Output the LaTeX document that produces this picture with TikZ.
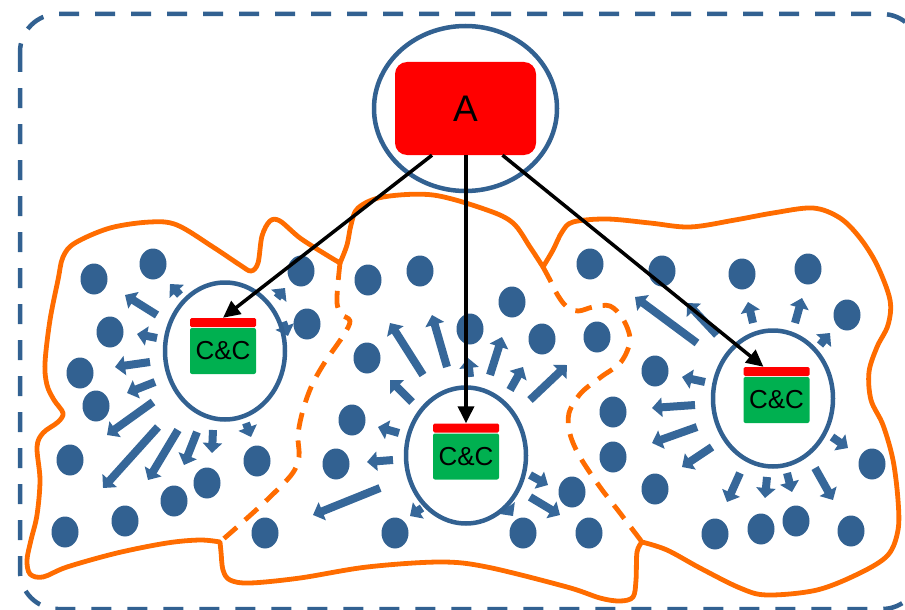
\documentclass[tikz,border=0pt]{standalone}
\usepackage{fontspec}
\setmainfont{Liberation Sans}
\usetikzlibrary{arrows.meta,shapes.geometric}
\definecolor{nodeblue}{RGB}{50,97,145}
\definecolor{arrowblue}{RGB}{54,103,153}
\definecolor{bloborange}{RGB}{255,108,0}
\definecolor{ccgreen}{RGB}{0,176,80}
\tikzset{
  outerframe/.style={draw=nodeblue, line width=4.5pt, dash pattern=on 20pt off 16pt, rounded corners=38pt},
  ring/.style={ellipse, draw=nodeblue, line width=4.5pt, inner sep=0pt, minimum width=120pt, minimum height=137pt},
  bot/.style={ellipse, fill=nodeblue, inner sep=0pt, minimum width=27pt, minimum height=31pt},
  flow/.style={draw=arrowblue, line width=8pt, -{Triangle[length=10pt,width=19pt]}},
  redbar/.style={fill=red, minimum width=66pt, minimum height=9pt, inner sep=0pt, rounded corners=1.5pt},
  ccbox/.style={fill=ccgreen, minimum width=66pt, minimum height=46pt, inner sep=0pt, rounded corners=2pt, font=\fontsize{26}{30}\selectfont},
  blob/.style={draw=bloborange, line width=4.8pt, line join=round},
  divider/.style={blob, dash pattern=on 17pt off 11pt},
  cmd/.style={draw=black, line width=3.5pt, -{Triangle[length=17pt,width=16pt]}},
}
\begin{document}
\begin{tikzpicture}[x=1pt,y=-1pt]
\useasboundingbox (0,0) rectangle (905,610);
\clip (0,0) rectangle (905,610);
% outer dashed frame
\draw[outerframe] (20,14) rectangle (920,609);
% orange blob
\draw[blob] plot[smooth, tension=0.55] coordinates {(220,542) (200,540) (167,543) (117,553) (67,567) (43,577) (30,574) (27,560) (31,540) (37,515) (40,480) (37,447) (43,433) (58,422) (63,413) (54,400) (47,385) (45,363) (50,320) (58,280) (63,257) (75,243) (110,228) (150,222) (177,225) (213,247) (240,265) (251,271) (258,263) (262,236) (270,221) (280,221) (300,238) (325,254) (340,263)}
 -- plot[smooth, tension=0.55] coordinates {(340,263) (347,245) (351,225) (358,208) (383,197) (433,195) (487,210) (513,223) (530,247) (543,267)}
 -- plot[smooth, tension=0.55] coordinates {(543,267) (553,250) (562,232) (573,222) (607,219) (650,223) (690,227) (735,220) (773,213) (813,208) (840,218) (860,238) (877,265) (890,300) (888,325) (877,347) (869,372) (871,400) (883,425) (893,460) (898,500) (898,530) (888,555) (860,573) (817,590) (767,595) (740,588) (700,568) (667,550) (642,542)}
 -- plot[smooth, tension=0.55] coordinates {(642,542) (637,552) (636,580) (633,597) (620,601) (600,598) (567,587) (487,567) (440,562) (367,567) (300,578) (250,583) (230,580) (223,570) (221,552) (220,542)} -- cycle;
\draw[divider] plot[smooth, tension=0.55] coordinates {(340,263) (338,283) (337,303) (341,314) (350,321) (343,336) (325,362) (312,385) (303,410) (298,435) (299,457) (292,474) (270,497) (245,520) (220,542)};
\draw[divider] plot[smooth, tension=0.55] coordinates {(543,267) (550,280) (557,294) (566,306) (578,311) (593,307) (610,306) (623,319) (630,340) (621,362) (601,377) (581,393) (569,413) (570,434) (580,457) (600,487) (620,513) (642,542)};
% dots
\foreach \x/\y [count=\i] in {94/279, 153/264, 301/271, 110/332, 307/324, 80/373, 96/406, 70/460, 257/461, 207/483, 174/501, 125/521, 65/532, 265/533,
  368/280, 420/271, 367/358, 470/329, 512/302, 542/339, 590/264, 597/337, 352/420, 336/464, 613/412, 613/457, 572/492, 395/533, 523/533, 589/533,
  662/271, 742/274, 808/269, 847/315, 655/371, 655/489, 872/464, 715/534, 761/529, 796/521, 851/531}
  \node[bot] (dot\i) at (\x,\y) {};
% radiating arrows
\foreach \xa/\ya/\xb/\yb in {180/295/170/284, 157/315/125/295, 157/338/137/334, 150/362/115/367, 155/382/127/393, 153/402/107/435, 158/427/103/488, 178/430/148/480, 197/432/184/465, 213/430/212/453, 246/423/251/437, 277/298/285/288, 283/322/288/336,
  423/375/390/323, 447/367/432/315, 470/377/468/358, 490/375/502/337, 510/390/523/367, 530/400/567/365, 412/402/390/380, 399/433/378/427, 393/460/367/462, 380/488/313/515, 422/508/410/516, 507/508/513/516, 530/475/548/485, 530/497/560/515,
  697/343/635/297, 717/335/687/303, 753/323/748/302, 795/323/802/298, 820/345/830/333, 705/382/682/377, 695/405/652/408, 697/427/652/443, 712/447/682/467, 832/437/848/448, 740/473/727/502, 767/477/765/498, 787/473/792/492, 815/468/833/500}
  \draw[flow] (\xa,\ya) -- (\xb,\yb);
% C&C clusters
\node[ring] (ring1) at (225,351) {};
\node[redbar] (bar1) at (223,322.5) {};
\node[ccbox] (cc1) at (223,351) {C\&C};
\node[ring, minimum height=136pt] (ring2) at (466,455.5) {};
\node[redbar] (bar2) at (466,428) {};
\node[ccbox] (cc2) at (466,456.5) {C\&C};
\node[ring, minimum height=136pt] (ring3) at (773,398.5) {};
\node[redbar] (bar3) at (776.5,371.5) {};
\node[ccbox] (cc3) at (776.5,400) {C\&C};
% A node
\node[ellipse, draw=nodeblue, line width=4.5pt, inner sep=0pt, minimum width=183pt, minimum height=165pt] (Aring) at (465.5,108.5) {};
\node[fill=red, rounded corners=12pt, inner sep=0pt, minimum width=141pt, minimum height=93pt, font=\fontsize{37}{40}\selectfont] (A) at (465.5,108.5) {\raisebox{-4pt}{A}};
% commands
\draw[cmd] ([xshift=-33.5pt]A.south) -- (bar1.north);
\draw[cmd] ([xshift=0.5pt]A.south) -- (bar2.north);
\draw[cmd] ([xshift=37pt]A.south) -- ([xshift=-13pt]bar3.north);
\end{tikzpicture}
\end{document}
